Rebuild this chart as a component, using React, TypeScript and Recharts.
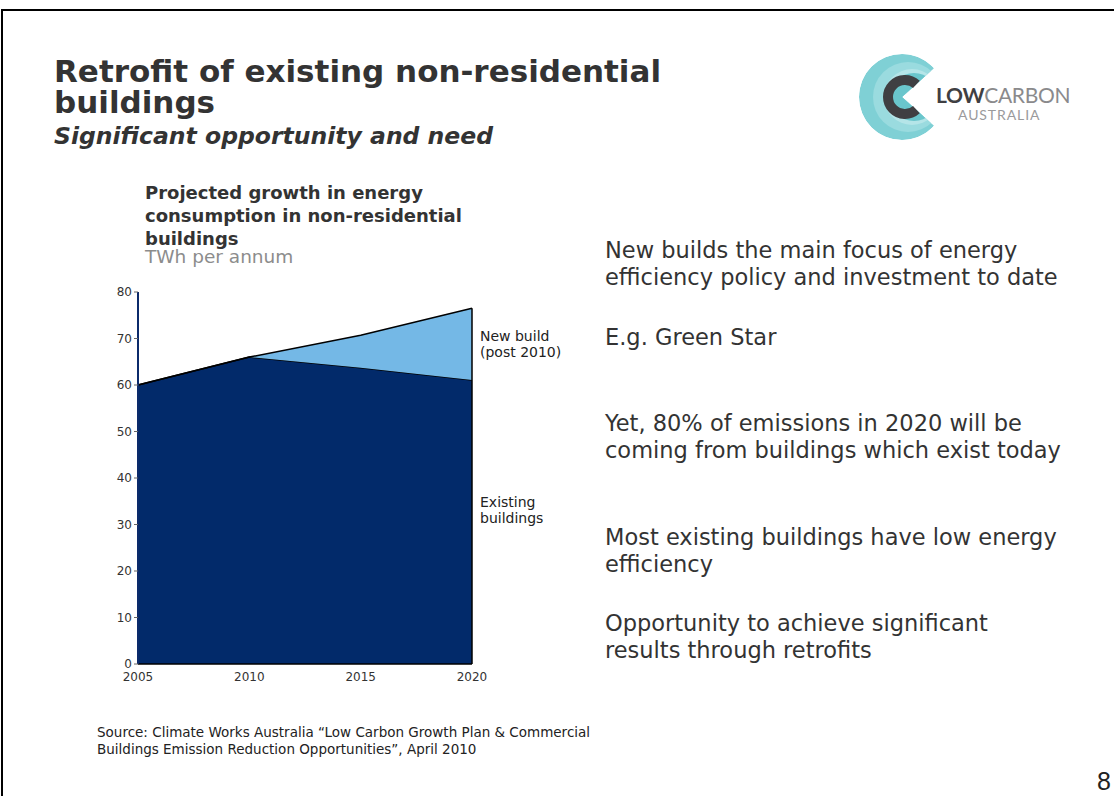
import React from "react";
import { Area, AreaChart, ReferenceLine, XAxis, YAxis } from "recharts";

// TWh per annum
const years = [2005, 2010, 2015, 2020];
const existingBuildings = [60, 66, 63.7, 61.1];
const newBuild = [0, 0, 7.0, 15.4];
const yTicks = [0, 10, 20, 30, 40, 50, 60, 70, 80];

const chartData = years.map((year, i) => ({
  year,
  existing: existingBuildings[i],
  newBuild: newBuild[i],
}));

const lastIdx = years.length - 1;
const lastTotal = existingBuildings[lastIdx] + newBuild[lastIdx];

const bullets = [
  { top: 237, lines: ["New builds the main focus of energy", "efficiency policy and investment to date"] },
  { top: 324, lines: ["E.g. Green Star"] },
  { top: 410, lines: ["Yet, 80% of emissions in 2020 will be", "coming from buildings which exist today"] },
  { top: 524, lines: ["Most existing buildings have low energy", "efficiency"] },
  { top: 610, lines: ["Opportunity to achieve significant", "results through retrofits"] },
];

const FONT = "'DejaVu Sans', Verdana, sans-serif";

function Logo() {
  const cx = 62;
  const cy = 57;
  const R = 43;
  const a = (deg: number) => (deg * Math.PI) / 180;
  const px = (r: number, deg: number) => cx + r * Math.cos(a(deg));
  const py = (r: number, deg: number) => cy + r * Math.sin(a(deg));
  const wedge = `M${cx},${cy} L${px(R, -42)},${py(R, -42)} A${R},${R} 0 1 0 ${px(R, 42)},${py(R, 42)} Z`;
  const cr = 17;
  const letterC = `M${px(cr, -48) + 3},${py(cr, -48)} A${cr},${cr} 0 1 0 ${px(cr, 48) + 3},${py(cr, 48)}`;
  return (
    <svg width={260} height={110} style={{ position: "absolute", left: 840, top: 40 }}>
      <defs>
        <clipPath id="pac">
          <path d={wedge} />
        </clipPath>
      </defs>
      <g clipPath="url(#pac)">
        <circle cx={cx} cy={cy} r={R} fill="#7fd0d5" />
        <circle cx={cx + 6} cy={cy} r={35} fill="#9adbdf" />
        <circle cx={cx + 10} cy={cy} r={28} fill="#b5e5e8" />
        <circle cx={cx + 12} cy={cy} r={24} fill="#6ac6cc" />
      </g>
      <path d={letterC} fill="none" stroke="#3f3f42" strokeWidth={10} />
      <text x={96} y={63} fontFamily="Lato, 'Open Sans', sans-serif" fontSize={21} letterSpacing={-0.3}>
        <tspan fill="#3f3f42" fontWeight={700}>LOW</tspan>
        <tspan fill="#8a8a8c">CARBON</tspan>
      </text>
      <text x={118} y={80} fontFamily="Lato, 'Open Sans', sans-serif" fontSize={14} letterSpacing={0.9} fill="#9a9a9c">
        AUSTRALIA
      </text>
    </svg>
  );
}

export default function App() {
  return (
    <div
      style={{
        position: "fixed",
        left: 0,
        top: 0,
        width: 1114,
        height: 796,
        background: "#fff",
        overflow: "hidden",
        fontFamily: FONT,
        color: "#333",
      }}
    >
      {/* slide frame */}
      <div
        style={{
          position: "absolute",
          left: 1,
          top: 9,
          width: 1300,
          height: 1000,
          borderLeft: "2px solid #000",
          borderTop: "2px solid #000",
        }}
      />

      <div
        style={{
          position: "absolute",
          left: 54,
          top: 56,
          fontSize: 31,
          lineHeight: "31px",
          fontWeight: 700,
          color: "#333",
          whiteSpace: "nowrap",
        }}
      >
        Retrofit of existing non-residential
        <br />
        buildings
      </div>
      <div
        style={{
          position: "absolute",
          left: 54,
          top: 122,
          fontSize: 23.5,
          lineHeight: "28px",
          fontWeight: 700,
          fontStyle: "italic",
          color: "#333",
          whiteSpace: "nowrap",
        }}
      >
        Significant opportunity and need
      </div>

      <Logo />

      <div
        style={{
          position: "absolute",
          left: 145,
          top: 181,
          fontSize: 18,
          lineHeight: "23px",
          fontWeight: 700,
          color: "#333",
          whiteSpace: "nowrap",
        }}
      >
        Projected growth in energy
        <br />
        consumption in non-residential
        <br />
        buildings
      </div>
      <div
        style={{
          position: "absolute",
          left: 145,
          top: 246,
          fontSize: 18.5,
          lineHeight: "22px",
          color: "#8c8c8c",
          whiteSpace: "nowrap",
        }}
      >
        TWh per annum
      </div>

      <div style={{ position: "absolute", left: 88, top: 282 }}>
        <AreaChart
          width={400}
          height={410}
          data={chartData}
          margin={{ top: 10, right: 16, bottom: 6, left: 5 }}
        >
          <XAxis
            dataKey="year"
            type="number"
            domain={[2005, 2020]}
            ticks={years}
            axisLine={{ stroke: "#000", strokeWidth: 1.5 }}
            tickLine={false}
            height={22}
            tick={{ fill: "#333", fontSize: 12, fontFamily: FONT }}
          />
          <YAxis
            type="number"
            domain={[0, 80]}
            ticks={yTicks}
            width={45}
            axisLine={{ stroke: "#0b2a6b", strokeWidth: 2 }}
            tickLine={{ stroke: "#666" }}
            tickSize={4}
            tick={{ fill: "#333", fontSize: 12, fontFamily: FONT }}
          />
          <Area
            type="linear"
            dataKey="existing"
            stackId="1"
            fill="#022a6a"
            fillOpacity={1}
            stroke="#000"
            strokeWidth={1.5}
            isAnimationActive={false}
          />
          <Area
            type="linear"
            dataKey="newBuild"
            stackId="1"
            fill="#74b8e6"
            fillOpacity={1}
            stroke="#000"
            strokeWidth={1.5}
            isAnimationActive={false}
          />
          <ReferenceLine
            segment={[
              { x: years[lastIdx], y: 0 },
              { x: years[lastIdx], y: lastTotal },
            ]}
            stroke="#000"
            strokeWidth={1.5}
          />
        </AreaChart>
      </div>

      <div
        style={{ position: "absolute", left: 480, top: 328, fontSize: 14, lineHeight: "16px", color: "#222", whiteSpace: "nowrap" }}
      >
        New build
        <br />
        (post 2010)
      </div>
      <div
        style={{ position: "absolute", left: 480, top: 494, fontSize: 14, lineHeight: "16px", color: "#222", whiteSpace: "nowrap" }}
      >
        Existing
        <br />
        buildings
      </div>

      {bullets.map((b) => (
        <div
          key={b.top}
          style={{
            position: "absolute",
            left: 605,
            top: b.top,
            fontSize: 22.5,
            lineHeight: "27px",
            color: "#333",
            whiteSpace: "nowrap",
          }}
        >
          {b.lines.map((l, i) => (
            <React.Fragment key={i}>
              {i > 0 && <br />}
              {l}
            </React.Fragment>
          ))}
        </div>
      ))}

      <div
        style={{
          position: "absolute",
          left: 97,
          top: 724,
          fontSize: 13.5,
          lineHeight: "17px",
          color: "#222",
          whiteSpace: "nowrap",
        }}
      >
        Source: Climate Works Australia “Low Carbon Growth Plan &amp; Commercial
        <br />
        Buildings Emission Reduction Opportunities”, April 2010
      </div>

      <div
        style={{
          position: "absolute",
          left: 1097,
          top: 769,
          fontSize: 25,
          lineHeight: "25px",
          fontFamily: "'Liberation Sans', Arial, sans-serif",
          color: "#222",
        }}
      >
        8
      </div>
    </div>
  );
}
